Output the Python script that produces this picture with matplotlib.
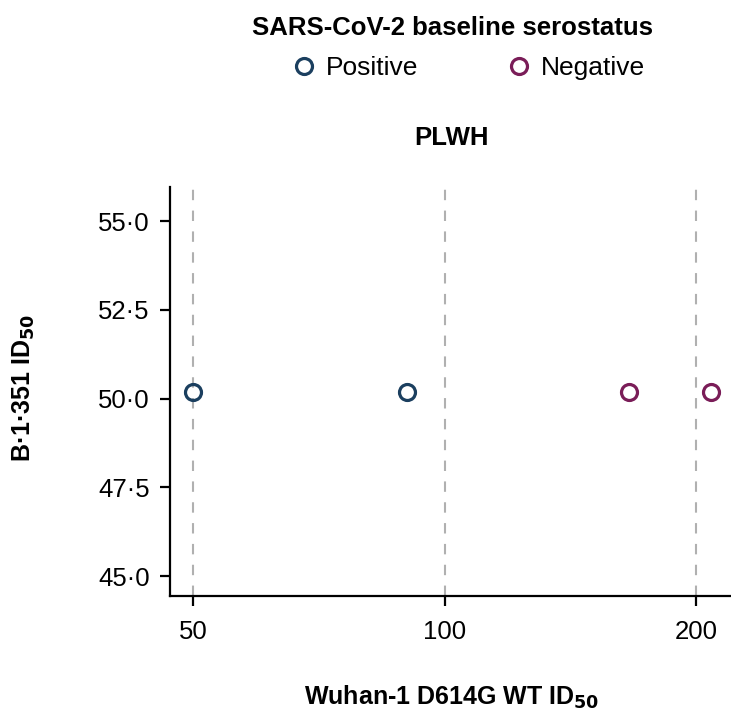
import matplotlib
matplotlib.use("Agg")
import matplotlib.pyplot as plt
from matplotlib.lines import Line2D
from matplotlib.ticker import FixedLocator, FixedFormatter, NullLocator

plt.rcParams['font.family'] = ['Liberation Sans', 'DejaVu Sans']

# Data
groups = ["Positive", "Negative"]
colors = {"Positive": "#1b3f5f", "Negative": "#7a1d58"}
wuhan_pos = [50, 90]
b1351_pos = [50.2, 50.2]
wuhan_neg = [166, 208]
b1351_neg = [50.2, 50.2]
xticks = [50, 100, 200]
xtick_labels = ["50", "100", "200"]
yticks = [45.0, 47.5, 50.0, 52.5, 55.0]
ytick_labels = ["45·0", "47·5", "50·0", "52·5", "55·0"]

fig = plt.figure(figsize=(7.31, 7.22), dpi=100)
ax = fig.add_axes([170/731, 126/722, 1 - 170/731, (596-187)/722])

for x in xticks:
    ax.axvline(x, color="#b0b0b0", lw=1.5, ls=(0, (5, 5)), zorder=1)

ax.plot(wuhan_pos, b1351_pos, ls="none", marker="o", ms=11.5, mfc="none",
        mec=colors["Positive"], mew=2.3, zorder=3)
ax.plot(wuhan_neg, b1351_neg, ls="none", marker="o", ms=11.5, mfc="none",
        mec=colors["Negative"], mew=2.3, zorder=3)

ax.set_xscale("log", base=2)
ax.set_xlim(46.9, 220)
ax.set_ylim(44.44, 55.96)
ax.xaxis.set_major_locator(FixedLocator(xticks))
ax.xaxis.set_major_formatter(FixedFormatter(xtick_labels))
ax.xaxis.set_minor_locator(NullLocator())
ax.yaxis.set_major_locator(FixedLocator(yticks))
ax.yaxis.set_major_formatter(FixedFormatter(ytick_labels))

for s in ["top", "right"]:
    ax.spines[s].set_visible(False)
for s in ["left", "bottom"]:
    ax.spines[s].set_linewidth(1.6)
ax.tick_params(axis="both", direction="out", length=7.5, width=1.6,
               labelsize=18.5)
ax.tick_params(axis="x", pad=10)
ax.tick_params(axis="y", pad=7)

fig.text(453/731, 1 - 28/722, "SARS-CoV-2 baseline serostatus", ha="center",
         va="center", fontsize=18.5, fontweight="bold")
handles = [Line2D([], [], ls="none", marker="o", ms=11.5, mfc="none",
                  mec=colors[g], mew=2.3) for g in groups]
fig.legend(handles, groups, loc="center", bbox_to_anchor=(468/731, 1 - 68/722),
           ncol=2, frameon=False, fontsize=19, handletextpad=0.35,
           columnspacing=3.3, handlelength=1.0)
fig.text(451/731, 1 - 138/722, "PLWH", ha="center", va="center",
         fontsize=18.5, fontweight="bold")
fig.text(452/731, 1 - 697/722, r"Wuhan-1 D614G WT ID$_{\mathbf{50}}$", ha="center",
         va="center", fontsize=18, fontweight="bold")
fig.text(24/731, 1 - 388/722, r"B·1·351 ID$_{\mathbf{50}}$", ha="center",
         va="center", rotation=90, fontsize=18, fontweight="bold")

fig.savefig("out.png", dpi=100)
